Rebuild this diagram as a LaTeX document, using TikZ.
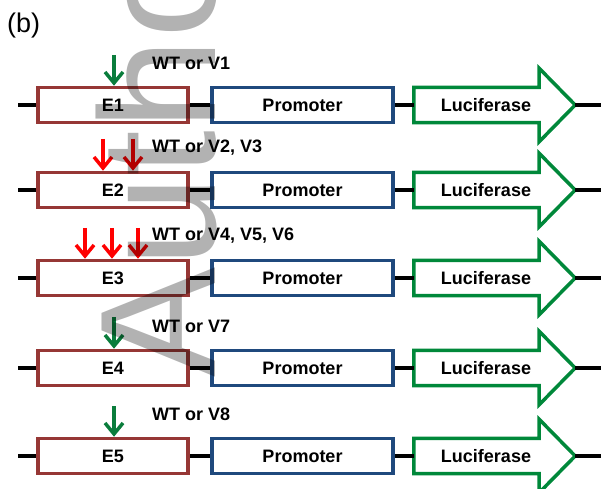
\documentclass[tikz,border=0pt]{standalone}
\usepackage{fontspec}
\setmainfont{Liberation Sans}
\usetikzlibrary{arrows.meta,calc}
\definecolor{ered}{RGB}{150,55,53}
\definecolor{pblue}{RGB}{31,73,125}
\definecolor{lgreen}{RGB}{0,136,58}
\definecolor{agreen}{RGB}{10,125,60}
\definecolor{ared}{RGB}{255,0,0}
\tikzset{
  boxfont/.style={font=\bfseries\fontsize{18}{20}\selectfont},
  ebox/.style={boxfont, draw=ered, line width=3.5pt, minimum width=150pt, minimum height=35pt, inner sep=0pt},
  pbox/.style={boxfont, draw=pblue, line width=3.5pt, minimum width=181pt, minimum height=35pt, inner sep=0pt},
  lbody/.style={minimum width=125pt, minimum height=35pt, inner sep=0pt},
  ltext/.style={boxfont, inner sep=0pt},
  lucout/.style={draw=lgreen, line width=3.5pt, line join=miter},
  link/.style={black, line width=3.5pt},
  lbl/.style={boxfont, anchor=west, inner sep=0pt},
  mutg/.style={agreen, line width=3.5pt, -{Straight Barb[length=11pt,width=18pt]}},
  mutr/.style={ared, line width=3.5pt, -{Straight Barb[length=11pt,width=18pt]}},
}
\begin{document}
\begin{tikzpicture}[x=1pt,y=-1pt]
\useasboundingbox (0,0) rectangle (603,489);
\node[font=\fontsize{27}{30}\selectfont, anchor=west, inner sep=0pt] (b) at (7,26) {(b)};
\foreach \i/\c in {1/105,2/190,3/278,4/368,5/456} {
  \node[ebox] (E\i) at (113,\c) {E\i};
  \node[pbox] (P\i) at (302.5,\c) {Promoter};
  \node[lbody] (Lb\i) at (476.5,\c) {};
  \node[ltext] (Lt\i) at (486,\c) {Luciferase};
  \coordinate (H\i) at ($(Lb\i.east)+(36,0)$);
  \draw[lucout] (Lb\i.north west) -- (Lb\i.north east) -- ++(0,-19) -- (H\i)
     -- ($(Lb\i.south east)+(0,19)$) -- (Lb\i.south east) -- (Lb\i.south west) -- cycle;
  \coordinate (S\i) at (18,\c);
  \coordinate (T\i) at (601,\c);
  \draw[link] (S\i) -- (E\i.west);
  \draw[link] (E\i.east) -- (P\i.west);
  \draw[link] (P\i.east) -- (Lb\i.west);
  \draw[link] (H\i) -- (T\i);
}
\node[lbl] (W1) at (152,63) {WT or V1};
\node[lbl] (W2) at (152,148) {WT or V2, V3};
\node[lbl] (W3) at (152,236) {WT or V4, V5, V6};
\node[lbl] (W4) at (152,326) {WT or V7};
\node[lbl] (W5) at (152,414) {WT or V8};
\coordinate (m1a) at (114,55);
\draw[mutg] (m1a) -- (m1a |- E1.north);
\coordinate (m2a) at (103,139);
\coordinate (m2b) at (133,139);
\draw[mutr] (m2a) -- (m2a |- E2.north);
\draw[mutr] (m2b) -- (m2b |- E2.north);
\coordinate (m3a) at (85,228);
\coordinate (m3b) at (112,228);
\coordinate (m3c) at (138,228);
\draw[mutr] (m3a) -- (m3a |- E3.north);
\draw[mutr] (m3b) -- (m3b |- E3.north);
\draw[mutr] (m3c) -- (m3c |- E3.north);
\coordinate (m4a) at (114,317);
\draw[mutg] (m4a) -- (m4a |- E4.north);
\coordinate (m5a) at (114,406);
\draw[mutg] (m5a) -- (m5a |- E5.north);
\node[rotate=90, anchor=base west, inner sep=0pt, text=black, text opacity=0.3,
      font=\fontsize{165}{165}\selectfont] (wm) at (215,378) {Author};
\end{tikzpicture}
\end{document}
